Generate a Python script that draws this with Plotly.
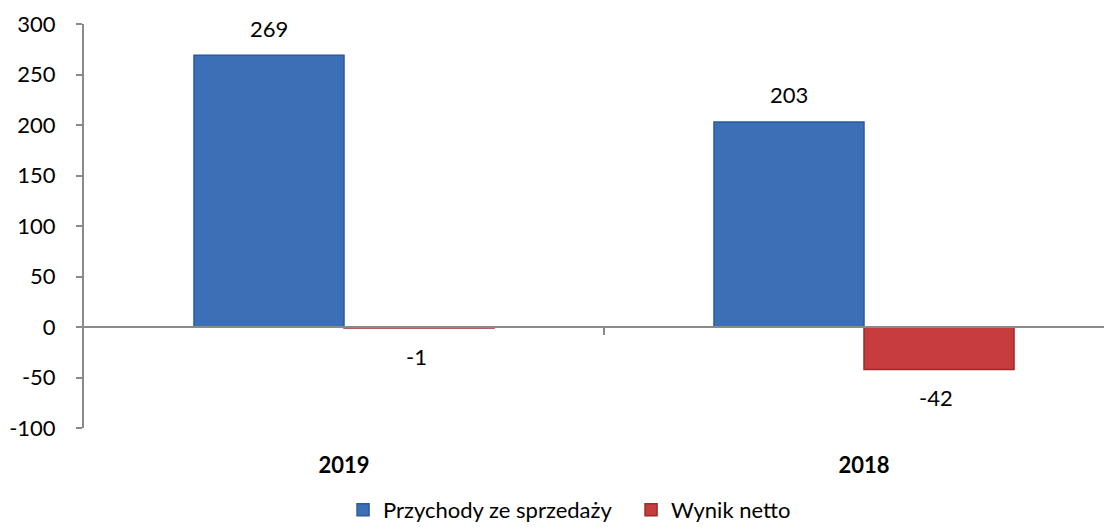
import plotly.graph_objects as go

categories = ["2019", "2018"]
przychody = [269, 203]
wynik = [-1, -42]
series_names = ["Przychody ze sprzedaży", "Wynik netto"]
y_ticks = [-100, -50, 0, 50, 100, 150, 200, 250, 300]

FONT = "Lato"
FS = 22
fig = go.Figure()
fig.add_trace(go.Bar(x=categories, y=przychody, name=series_names[0],
                     marker=dict(color="#3b70b6", line=dict(color="#2b5b99", width=1.5))))
fig.add_trace(go.Bar(x=categories, y=wynik, name=series_names[1],
                     marker=dict(color="#c73c3c", line=dict(color="#9a2b2b", width=1.5))))
# dummy trace to carry the axis line drawn at zero
fig.add_trace(go.Scatter(x=categories, y=[0, 0], xaxis="x2", mode="lines",
                         line=dict(width=0), showlegend=False, hoverinfo="skip"))

for i, c in enumerate(categories):
    fig.add_annotation(x=i, y=przychody[i], xref="x", yref="y", text=str(przychody[i]),
                       showarrow=False, xshift=-75, yshift=27,
                       font=dict(size=FS, color="black", family=FONT))
    fig.add_annotation(x=i, y=wynik[i], xref="x", yref="y", text=str(wynik[i]),
                       showarrow=False, xshift=72, yshift=-28,
                       font=dict(size=FS, color="black", family=FONT))

xr = [-0.5, -0.5 + 1028 / 520]
fig.update_layout(
    width=1104, height=523,
    margin=dict(l=76, r=0, t=16, b=103),
    paper_bgcolor="white", plot_bgcolor="white",
    barmode="group", bargap=0.423, bargroupgap=0,
    font=dict(family=FONT, size=FS, color="black"),
    showlegend=True,
    legend=dict(orientation="h", x=0.252, xanchor="left", xref="paper",
                yref="container", y=-0.013, yanchor="bottom",
                font=dict(size=FS, family=FONT), itemwidth=30, entrywidth=243,
                traceorder="normal"),
    xaxis=dict(type="category", range=xr, showline=False, showgrid=False, zeroline=False,
               automargin=False, ticks="outside", ticklen=18, tickcolor="rgba(0,0,0,0)",
               tickfont=dict(size=FS, family=FONT, color="black", weight="bold")),
    xaxis2=dict(type="category", range=xr, overlaying="x", anchor="free", position=0.25,
                side="bottom", showline=True, linecolor="#8a8a8a", linewidth=2,
                automargin=False, showgrid=False, zeroline=False, showticklabels=False,
                tickmode="array", tickvals=[0.5], ticks="outside", ticklen=7,
                tickcolor="#8a8a8a", tickwidth=2),
    yaxis=dict(range=[-100, 300], tickmode="array", tickvals=y_ticks,
               ticktext=[str(v) for v in y_ticks], showgrid=False, zeroline=False,
               automargin=False, showline=True, linecolor="#8a8a8a", linewidth=2,
               ticks="outside", ticklen=6, tickcolor="#8a8a8a", tickwidth=2,
               ticklabelstandoff=16, tickfont=dict(size=FS, family=FONT, color="black")),
)
fig.write_html("out.html")
